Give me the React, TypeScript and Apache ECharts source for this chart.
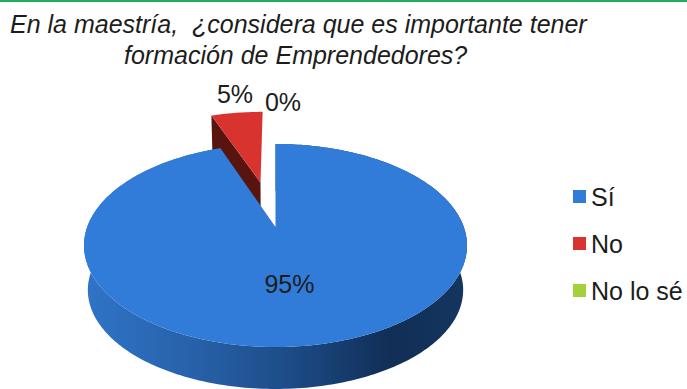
import React, { useEffect, useRef } from "react";
import * as echarts from "echarts";

const titleLines = [
  "En la maestría,  ¿considera que es importante tener",
  "formación de Emprendedores?",
];
const categories = ["Sí", "No", "No lo sé"];
const shares = [95, 5, 0];
const colors = ["#317cd8", "#d93330", "#a3d139"];

// Disc geometry: top-face ellipse, perspective shift and extrusion.
const CX = 275.5;
const CY = 245.5;
const RX = 191.5;
const RY = 101.5;
const K = -0.182;
const WARP = 0.06;
const DROP = 44.5;
const BASE_SCALE_X = 0.98;
const BASE_SCALE_Y = 0.975;
const EXPLODE = 0.5;
const EXPLODE_ANGLE = -10 * (Math.PI / 180);

type Pt = [number, number];

// Projects a point of the unit disc (u to the right, v towards the viewer).
function project(u: number, v: number): Pt {
  const w = 1 + K * v;
  return [
    CX + (RX * u * Math.sqrt(1 - K * K)) / w,
    CY + (RY * (v + K)) / w,
  ];
}

function toBase(p: Pt): Pt {
  return [
    CX + (p[0] - CX) * BASE_SCALE_X,
    CY + DROP + (p[1] - CY) * BASE_SCALE_Y,
  ];
}

// Rim point for a clockwise angle from twelve o'clock, slightly foreshortened.
function rim(angle: number, du: number, dv: number): Pt {
  const a = angle + WARP * Math.sin(2 * angle);
  return project(Math.sin(a) + du, -Math.cos(a) + dv);
}

function arcPoints(a0: number, a1: number, du: number, dv: number): Pt[] {
  const steps = Math.max(2, Math.ceil(((a1 - a0) * 180) / Math.PI));
  const out: Pt[] = [];
  for (let i = 0; i <= steps; i++) {
    out.push(rim(a0 + ((a1 - a0) * i) / steps, du, dv));
  }
  return out;
}

const total = shares.reduce((a, b) => a + b, 0);
const sliceStart = (index: number) =>
  (shares.slice(0, index).reduce((a, b) => a + b, 0) / total) * Math.PI * 2;

const blueSide = new echarts.graphic.LinearGradient(0, 0, 1, 0, [
  { offset: 0, color: "#2f74c8" },
  { offset: 0.3, color: "#2760a8" },
  { offset: 0.55, color: "#1c4a85" },
  { offset: 0.8, color: "#112e56" },
  { offset: 1, color: "#14365f" },
]);

const fontFamily = '"Liberation Sans", Arial, sans-serif';
const labelFont = `25px ${fontFamily}`;

function labelNode(text: string, x: number, y: number) {
  return {
    type: "text",
    z2: 10,
    style: {
      x,
      y,
      text,
      font: labelFont,
      fill: "#1c1c1c",
      align: "center",
      verticalAlign: "middle",
    },
  };
}

function poly(points: Pt[], fill: unknown) {
  return { type: "polygon", shape: { points }, style: { fill } };
}

// Large slice: the band round its edge, then the top face.
function renderFirst(_: unknown, api: any) {
  const value = api.value(0);
  const a0 = sliceStart(0);
  const a1 = a0 + (value / total) * Math.PI * 2;
  const top = arcPoints(a0, a1, 0, 0);
  const band = [...top, ...top.map(toBase).reverse()];
  const apex = project(0, 0);
  return {
    type: "group",
    children: [
      poly(band, blueSide),
      poly([apex, ...top], colors[0]),
      labelNode(`${value}%`, 289.5, 284),
    ],
  };
}

// Small slice pulled out of the disc, with its dark inner wall.
function renderSecond(_: unknown, api: any) {
  const value = api.value(0);
  const a0 = sliceStart(1);
  const a1 = a0 + (value / total) * Math.PI * 2;
  const du = EXPLODE * Math.sin(EXPLODE_ANGLE);
  const dv = -EXPLODE * Math.cos(EXPLODE_ANGLE);
  const top = arcPoints(a0, a1, du, dv);
  const apex = project(du, dv);
  const wall = [top[0], apex, toBase(apex), toBase(top[0])];
  return {
    type: "group",
    children: [
      poly(wall, "#58140f"),
      poly([apex, ...top], colors[1]),
      labelNode(`${value}%`, 235, 94),
    ],
  };
}

// Empty slice: only its label shows.
function renderThird(_: unknown, api: any) {
  return {
    type: "group",
    children: [labelNode(`${api.value(0)}%`, 283, 102)],
  };
}

const renderers = [renderFirst, renderSecond, renderThird];
const layerOrder = [2, 1, 3];

const titleStyle = {
  fontFamily,
  fontStyle: "italic",
  fontWeight: "normal",
  fontSize: 25,
  color: "#1c1c1c",
};

export default function App() {
  const ref = useRef<HTMLDivElement>(null);

  useEffect(() => {
    if (!ref.current) return;
    const chart = echarts.init(ref.current, undefined, { renderer: "svg" });
    chart.setOption({
      animation: false,
      backgroundColor: "#ffffff",
      title: [
        { text: titleLines[0], left: 5, top: 6, textStyle: titleStyle },
        { text: titleLines[1], left: 119, top: 37, textStyle: titleStyle },
      ],
      legend: {
        data: categories,
        orient: "vertical",
        left: 573,
        top: 184,
        itemWidth: 13,
        itemHeight: 13,
        itemGap: 22,
        icon: "rect",
        selectedMode: false,
        padding: 0,
        textStyle: {
          fontFamily,
          fontSize: 25,
          color: "#1c1c1c",
        },
      },
      graphic: [
        {
          type: "rect",
          shape: { x: 0, y: 0, width: 687, height: 2 },
          style: { fill: "#1fae5e" },
        },
      ],
      series: categories.map((name, i) => ({
        name,
        type: "custom",
        coordinateSystem: "none",
        z: layerOrder[i],
        silent: true,
        itemStyle: { color: colors[i] },
        data: [[shares[i]]],
        renderItem: renderers[i],
      })),
    });
    return () => chart.dispose();
  }, []);

  return (
    <div
      ref={ref}
      style={{ position: "fixed", left: 0, top: 0, width: 687, height: 389 }}
    />
  );
}
